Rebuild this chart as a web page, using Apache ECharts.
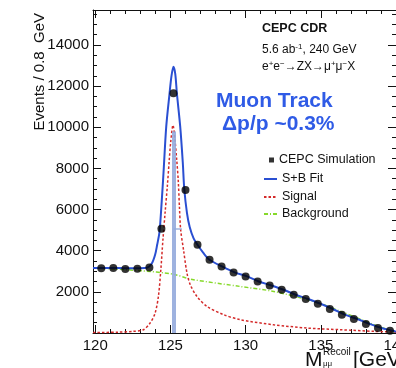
<!DOCTYPE html>
<html><head><meta charset="utf-8">
<script src="https://cdn.jsdelivr.net/npm/echarts@6/dist/echarts.min.js"></script>
<style>html,body{margin:0;padding:0;background:#fff}#c{width:396px;height:368px}</style>
</head><body><div id="c"></div>
<script>
// ---- data ----
const binCenters = [120.4,121.2,122.0,122.8,123.6,124.4,125.2,126.0,126.8,127.6,128.4,129.2,130.0,130.8,131.6,132.4,133.2,134.0,134.8,135.6,136.4,137.2,138.0,138.8,139.6];
const dataCounts = [3150,3160,3110,3120,3180,5070,11650,6950,4290,3560,3235,2945,2750,2505,2310,2100,1860,1650,1420,1165,890,680,435,240,110];

const fitX = [119.85,121.0,122.0,123.0,123.43,123.76,123.98,124.12,124.27,124.42,124.54,124.72,124.94,125.07,125.2,125.32,125.43,125.65,125.82,125.92,126.1,126.28,126.54,126.8,127.2,127.6,128.43,129.27,130.1,130.87,131.72,132.54,133.32,134.16,134.98,135.8,136.6,137.43,138.27,139.03,139.8,140.0];
const fitY = [3160,3160,3150,3150,3170,3380,3800,4300,4900,6400,7800,10030,11640,12500,12940,12600,11640,10030,8300,7000,5825,5150,4600,4290,3880,3560,3235,2945,2750,2505,2310,2100,1860,1650,1420,1165,890,680,435,240,110,60];

const sigX = [119.85,121.5,122.5,123.2,123.65,123.98,124.2,124.36,124.5,124.65,124.8,124.92,125.02,125.17,125.3,125.42,125.52,125.6,125.68,125.87,126.1,126.32,126.76,127.43,128.54,129.65,131.87,134.1,136.32,138.54,140.0];
const sigY = [20,40,80,160,485,970,1780,3070,4530,5900,7200,8400,9300,10100,9400,8400,7400,6100,5010,4040,2910,2345,1780,1290,890,645,400,240,160,80,40];

const bkgX = [119.85,123.0,125.18,126.32,129.65,131.87,134.1,135.2,136.32,137.43,138.54,139.65,140.0];
const bkgY = [3170,3030,2860,2620,2260,2020,1620,1370,1050,730,400,110,20];

const bandX = 125.22, bandTop = 9800, stubY = 5050, stubEnd = 125.76;

const xTicksMin = 119.85, xTicksMax = 140;
const yMax = 15700, yStep = 2000;

const legendNames = ['CEPC Simulation','S+B Fit','Signal','Background'];

// ---- chart ----
const FONT = "'Liberation Sans', Arial, Helvetica, sans-serif";
const zip = (a,b) => a.map((v,i) => [v, b[i]]);
const chart = echarts.init(document.getElementById('c'), null, {renderer:'canvas'});

const axisCommon = {
  type:'value', splitLine:{show:false},
  axisLine:{show:true, onZero:false, lineStyle:{color:'#111', width:1}},
  axisTick:{show:true, inside:true, length:8, lineStyle:{color:'#111'}},
};

const legText = {fontSize:12.5, fontFamily:FONT, color:'#111', lineHeight:14};

chart.setOption({
  animation:false,
  backgroundColor:'#fff',
  grid:{left:93, right:0, top:10, bottom:35, containLabel:false, outerBoundsMode:'none'},
  xAxis:[
    Object.assign({}, axisCommon, {position:'bottom', min:xTicksMin, max:xTicksMax, splitNumber:5,
      minorTick:{show:true, splitNumber:5, length:4, lineStyle:{color:'#111'}},
      axisLabel:{showMinLabel:false, alignMaxLabel:'center', hideOverlap:false, fontSize:15, fontFamily:FONT, color:'#111', margin:5}}),
    Object.assign({}, axisCommon, {position:'top', min:xTicksMin, max:xTicksMax, splitNumber:5,
      minorTick:{show:true, splitNumber:5, length:4, lineStyle:{color:'#111'}},
      axisLabel:{show:false}})
  ],
  yAxis:[
    Object.assign({}, axisCommon, {position:'left', min:0, max:yMax, interval:yStep,
      minorTick:{show:true, splitNumber:4, length:4, lineStyle:{color:'#111'}},
      axisLabel:{showMaxLabel:false, fontSize:15, fontFamily:FONT, color:'#111', margin:4,
        formatter:v => v === 0 ? '' : String(v)}}),
    Object.assign({}, axisCommon, {position:'right', min:0, max:yMax, interval:yStep,
      minorTick:{show:true, splitNumber:4, length:4, lineStyle:{color:'#111'}},
      axisLabel:{show:false}})
  ],
  legend:[
    {data:[{name:legendNames[0], icon:'rect'}], left:269, top:153, padding:0, itemWidth:5, itemHeight:5, selectedMode:false, textStyle:legText},
    {data:[legendNames[1]], left:263, top:172, padding:0, itemWidth:13, itemHeight:10, selectedMode:false, textStyle:legText, itemStyle:{opacity:0}},
    {data:[legendNames[2]], left:263, top:190, padding:0, itemWidth:13, itemHeight:10, selectedMode:false, textStyle:legText, itemStyle:{opacity:0}},
    {data:[legendNames[3]], left:263, top:207, padding:0, itemWidth:13, itemHeight:10, selectedMode:false, textStyle:legText, itemStyle:{opacity:0}}
  ],
  series:[
    {name:legendNames[3], type:'line', data:zip(bkgX,bkgY), symbol:'none', smooth:0.3, z:2,
      itemStyle:{color:'#86d92a'}, lineStyle:{color:'#86d92a', width:1.5, type:[4,2,1,2]}},
    {name:legendNames[2], type:'line', data:zip(sigX,sigY), symbol:'none', smooth:0.3, z:3,
      itemStyle:{color:'#d42a2a'}, lineStyle:{color:'#d42a2a', width:1.5, type:[2.5,2]}},
    {name:legendNames[1], type:'line', data:zip(fitX,fitY), symbol:'none', smooth:0.3, z:4,
      itemStyle:{color:'#2a4fd2'}, lineStyle:{color:'#2a4fd2', width:2},
      markLine:{silent:true, symbol:['none','none'], label:{show:false}, animation:false,
        lineStyle:{color:'#93aadc', width:4, type:'solid', opacity:0.9},
        data:[
          [{coord:[bandX,0]},{coord:[bandX,bandTop]}],
          [{coord:[bandX,stubY], lineStyle:{width:1.5, color:'#93aadc'}},{coord:[stubEnd,stubY]}]
        ]}},
    {name:legendNames[0], type:'scatter', data:zip(binCenters,dataCounts), symbol:'circle', symbolSize:8, z:6,
      itemStyle:{color:'#000'}}
  ],
  graphic:[
    {type:'text', x:40, y:13, rotation:Math.PI/2, style:{text:'Events / 0.8  GeV', font:'15px '+FONT, fill:'#111', align:'right', verticalAlign:'middle', textAlign:'right', textVerticalAlign:'middle'}},
    {type:'text', x:262, y:29, style:{text:'CEPC CDR', font:'bold 12.5px '+FONT, fill:'#111', align:'left', verticalAlign:'middle', textAlign:'left', textVerticalAlign:'middle'}},
    {type:'text', x:262, y:50, style:{text:'5.6 ab{s|-1}, 240 GeV', font:'12px '+FONT, fill:'#111', align:'left', verticalAlign:'middle', textAlign:'left', textVerticalAlign:'middle',
      rich:{s:{fontSize:8, fontFamily:FONT, fill:'#111', verticalAlign:'top', lineHeight:14}}}},
    {type:'text', x:262, y:67, style:{text:'e{s|+}e{s|−}→ZX→μ{s|+}μ{s|−}X', font:'12px '+FONT, fill:'#111', align:'left', verticalAlign:'middle', textAlign:'left', textVerticalAlign:'middle',
      rich:{s:{fontSize:8, fontFamily:FONT, fill:'#111', verticalAlign:'top', lineHeight:14}}}},
    {type:'text', x:216, y:101, style:{text:'Muon Track', font:'bold 21px '+FONT, fill:'#2f5be6', align:'left', verticalAlign:'middle', textAlign:'left', textVerticalAlign:'middle'}},
    {type:'text', x:222, y:124, style:{text:'Δp/p ~0.3%', font:'bold 21px '+FONT, fill:'#2f5be6', align:'left', verticalAlign:'middle', textAlign:'left', textVerticalAlign:'middle'}},
    {type:'text', x:305, y:360, style:{text:'M', font:'21px '+FONT, fill:'#111', align:'left', verticalAlign:'middle', textAlign:'left', textVerticalAlign:'middle'}},
    {type:'text', x:323, y:352, style:{text:'Recoil', font:'10px '+FONT, fill:'#111', align:'left', verticalAlign:'middle', textAlign:'left', textVerticalAlign:'middle'}},
    {type:'text', x:323, y:364, style:{text:'μμ', font:'8px '+FONT, fill:'#111', align:'left', verticalAlign:'middle', textAlign:'left', textVerticalAlign:'middle'}},
    {type:'text', x:353, y:360, style:{text:'[GeV]', font:'21px '+FONT, fill:'#111', align:'left', verticalAlign:'middle', textAlign:'left', textVerticalAlign:'middle'}}
  ]
});
</script></body></html>
